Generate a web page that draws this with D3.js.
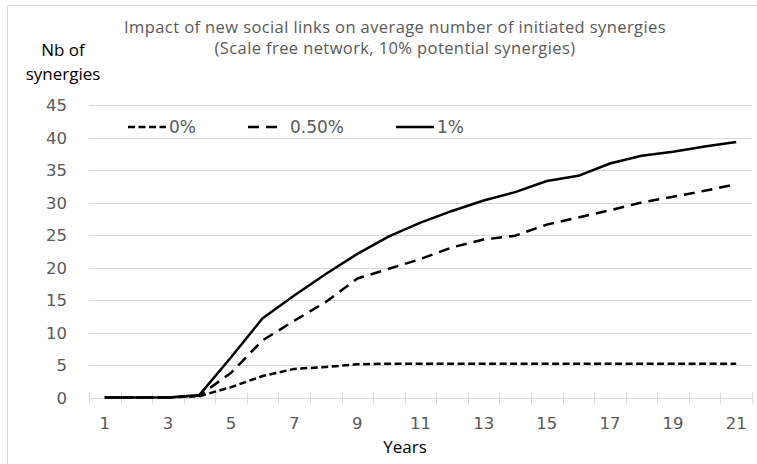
<!DOCTYPE html>
<html lang="en">
<head>
<meta charset="utf-8">
<script src="https://d3js.org/d3.v7.min.js"></script>
<style>
	body { margin: 0; background: #fff; }
	svg { display: block; }
	.grid line { stroke: #d9d9d9; stroke-width: 1px; }
	.tick-label { font-family: 'DejaVu Sans', sans-serif; font-size: 16.5px; fill: #595959; }
	.title { font-family: 'Open Sans', sans-serif; font-size: 16.5px; letter-spacing: 0.4px; fill: #595959; }
	.axis-title { font-family: 'Open Sans', sans-serif; font-size: 17px; fill: #000; }
	.series { fill: none; stroke: #000; stroke-width: 2.5px; stroke-linejoin: round; }
</style>
</head>
<body>
<div id="chart"></div>
<script>
var width = 757, height = 464;

// years 1..21
var years = d3.range(1, 22);
var yTicks = [0, 5, 10, 15, 20, 25, 30, 35, 40, 45];
var xLabels = [1, 3, 5, 7, 9, 11, 13, 15, 17, 19, 21];

var seriesNames = ["0%", "0.50%", "1%"];
var links0 = [0, 0, 0, 0.2, 1.6, 3.3, 4.4, 4.7, 5.1, 5.2, 5.2, 5.2, 5.2, 5.2, 5.2, 5.2, 5.2, 5.2, 5.2, 5.2, 5.2];
var links050 = [0, 0, 0, 0.3, 3.8, 8.8, 11.8, 14.7, 18.3, 19.8, 21.3, 23.1, 24.3, 24.9, 26.6, 27.7, 28.8, 30.0, 30.9, 31.8, 32.8];
var links1 = [0, 0, 0, 0.4, 6.2, 12.2, 15.7, 19.0, 22.1, 24.8, 26.9, 28.7, 30.3, 31.6, 33.3, 34.1, 36.0, 37.2, 37.8, 38.6, 39.3];

var dashes = ["7,3.5", "11,7", null];
var allSeries = [links0, links050, links1];

var svg = d3.select("#chart").append("svg")
	.attr("width", width)
	.attr("height", height);

// light frame on the left and top
svg.append("path")
	.attr("d", "M7.5," + height + "V5.5H" + width)
	.attr("fill", "none")
	.attr("stroke", "#d9d9d9");

var x = d3.scaleBand().domain(years).range([89, 752]);
var y = d3.scaleLinear().domain([0, 45]).range([397.5, 105]);

// gridlines
svg.append("g").attr("class", "grid")
	.selectAll("line")
	.data(yTicks.filter(function(d){ return d > 0; }))
	.enter().append("line")
	.attr("x1", 89).attr("x2", 752)
	.attr("y1", function(d){ return Math.round(y(d)) + 0.5; })
	.attr("y2", function(d){ return Math.round(y(d)) + 0.5; });

// x axis line + cross ticks
var ax = svg.append("g").attr("class", "grid");
ax.append("line")
	.attr("x1", 89).attr("x2", 752)
	.attr("y1", Math.round(y(0)) + 0.5).attr("y2", Math.round(y(0)) + 0.5);
var tickPos = years.map(function(d){ return x(d); }).concat([x.range()[1]]);
ax.selectAll(".xt")
	.data(tickPos)
	.enter().append("line")
	.attr("class", "xt")
	.attr("x1", function(d){ return Math.round(d) + 0.5; })
	.attr("x2", function(d){ return Math.round(d) + 0.5; })
	.attr("y1", y(0) - 5).attr("y2", y(0) + 6);

// y tick labels
svg.selectAll(".ylab")
	.data(yTicks)
	.enter().append("text")
	.attr("class", "tick-label")
	.attr("x", 67)
	.attr("y", function(d){ return y(d) + 6; })
	.attr("text-anchor", "end")
	.text(function(d){ return d; });

// x tick labels
svg.selectAll(".xlab")
	.data(xLabels)
	.enter().append("text")
	.attr("class", "tick-label")
	.attr("x", function(d){ return x(d) + x.bandwidth() / 2; })
	.attr("y", 429)
	.attr("text-anchor", "middle")
	.text(function(d){ return d; });

// lines
var line = d3.line()
	.x(function(d, i){ return x(years[i]) + x.bandwidth() / 2; })
	.y(function(d){ return y(d); });

svg.selectAll(".series")
	.data(allSeries)
	.enter().append("path")
	.attr("class", "series")
	.attr("stroke-dasharray", function(d, i){ return dashes[i]; })
	.attr("d", line);

// legend
var legendX = [128, 248, 396];
var leg = svg.selectAll(".leg")
	.data(seriesNames)
	.enter().append("g")
	.attr("transform", function(d, i){ return "translate(" + legendX[i] + ",127)"; });
leg.append("line")
	.attr("class", "series")
	.attr("x1", 0).attr("x2", function(d, i){ return i == 1 ? 31 : 38; })
	.attr("y1", 0).attr("y2", 0)
	.attr("stroke-dasharray", function(d, i){ return dashes[i]; });
leg.append("text")
	.attr("class", "tick-label")
	.attr("x", function(d, i){ return i == 1 ? 42 : 41; })
	.attr("y", 6)
	.style("font-size", "17px")
	.text(function(d){ return d; });

// titles
svg.append("text").attr("class", "title")
	.attr("x", 395).attr("y", 33).attr("text-anchor", "middle")
	.text("Impact of new social links on average number of initiated synergies");
svg.append("text").attr("class", "title")
	.attr("x", 395).attr("y", 54).attr("text-anchor", "middle")
	.text("(Scale free network, 10% potential synergies)");

svg.append("text").attr("class", "axis-title")
	.attr("x", 63).attr("y", 56).attr("text-anchor", "middle")
	.text("Nb of");
svg.append("text").attr("class", "axis-title")
	.attr("x", 63).attr("y", 80).attr("text-anchor", "middle")
	.text("synergies");
svg.append("text").attr("class", "axis-title")
	.attr("x", 405).attr("y", 453).attr("text-anchor", "middle")
	.text("Years");
</script>
</body>
</html>
